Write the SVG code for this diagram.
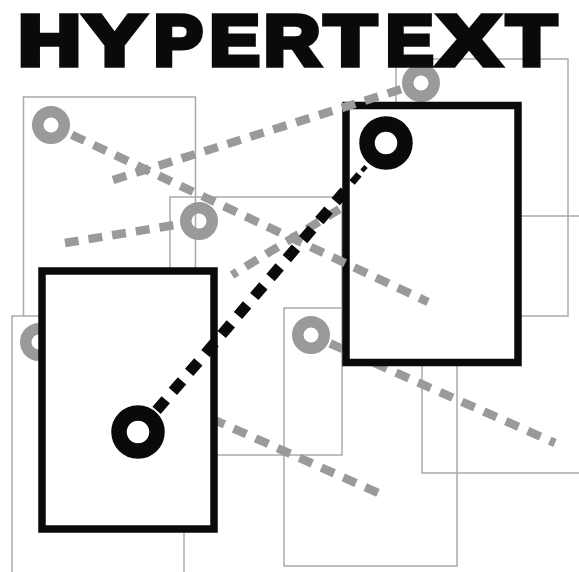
<svg xmlns="http://www.w3.org/2000/svg" width="579" height="572" viewBox="0 0 579 572">
  <style>
    .page { fill: none; stroke: #aaaaaa; stroke-width: 1.5; }
    .pagew { fill: #ffffff; stroke: #aaaaaa; stroke-width: 1.5; }
    .gring { fill: none; stroke: #9a9a9a; stroke-width: 11.5; }
    .glink { fill: none; stroke: #9a9a9a; stroke-width: 8.5; stroke-dasharray: 14 10; }
    .doc { fill: #ffffff; stroke: #0a0a0a; stroke-width: 7.5; }
    .bring { fill: none; stroke: #0a0a0a; stroke-width: 15.5; }
    .blink { fill: none; stroke: #0a0a0a; stroke-width: 11; stroke-dasharray: 14 11; }
    .title { font-family: "Liberation Sans", Arial, sans-serif; font-weight: bold; font-size: 70px; fill: #0a0a0a; stroke: #0a0a0a; stroke-width: 5.5; stroke-linejoin: miter; }
  </style>
  <rect width="579" height="572" fill="#ffffff"/>

  <!-- gray trail pages -->
  <g id="page1"><rect class="page" x="23.5" y="97" width="172" height="257"/></g>
  <g id="page2"><rect class="pagew" x="12" y="316" width="172" height="257"/></g>
  <g id="page3"><rect class="page" x="170" y="197" width="172" height="258"/></g>
  <g id="page4"><rect class="page" x="396" y="59" width="172" height="257"/></g>
  <g id="page5"><rect class="page" x="422" y="216" width="172" height="257"/></g>
  <g id="page6"><rect class="page" x="284" y="308" width="173" height="258"/></g>

  <!-- gray trail connectors (below documents) -->
  <g id="trail-links-back">
    <line class="glink" x1="58.2" y1="350.5" x2="383" y2="495"/>
    <line class="glink" x1="330.2" y1="343.5" x2="555" y2="443"/>
    <line class="glink" x1="232" y1="275" x2="400" y2="172" stroke-dashoffset="8"/>
    <line class="glink" x1="173.3" y1="225.2" x2="65" y2="243"/>
  </g>

  <!-- gray anchors -->
  <g id="anchor-page1"><circle class="gring" cx="51" cy="125" r="13.25"/></g>
  <g id="anchor-page2"><circle class="gring" cx="39" cy="342" r="13.25"/></g>
  <g id="anchor-page3"><circle class="gring" cx="199" cy="221" r="13.25"/></g>
  <g id="anchor-page4"><circle class="gring" cx="421" cy="83" r="13.25"/></g>
  <g id="anchor-page6"><circle class="gring" cx="311" cy="335" r="13.25"/></g>

  <!-- documents -->
  <g id="docA"><rect class="doc" x="42" y="271" width="172" height="258"/></g>
  <g id="docB"><rect class="doc" x="346" y="105.5" width="172" height="257"/></g>

  <!-- gray trail connectors (over documents) -->
  <g id="trail-links-front">
    <line class="glink" x1="71.8" y1="134.8" x2="428" y2="302"/>
    <line class="glink" x1="401" y1="89.3" x2="113" y2="180"/>
  </g>

  <!-- main hyperlink -->
  <g id="connectors">
    <line class="blink" x1="156.6" y1="410.4" x2="346.5" y2="189"/>
    <line x1="352" y1="182.5" x2="359" y2="174.5" stroke="#0a0a0a" stroke-width="7"/>
    <line x1="362" y1="171" x2="366" y2="166.5" stroke="#0a0a0a" stroke-width="4.5"/>
  </g>
  <g id="anchorA"><circle class="bring" cx="138" cy="432" r="19"/></g>
  <g id="anchorB"><circle class="bring" cx="386" cy="143" r="19"/></g>

  <g id="title">
    <text class="title" y="65"><tspan x="18.2" textLength="62.7" lengthAdjust="spacingAndGlyphs">H</tspan><tspan x="84" textLength="61.1" lengthAdjust="spacingAndGlyphs">Y</tspan><tspan x="154" textLength="48.6" lengthAdjust="spacingAndGlyphs">P</tspan><tspan x="209.8" textLength="49.8" lengthAdjust="spacingAndGlyphs">E</tspan><tspan x="263.9" textLength="56.1" lengthAdjust="spacingAndGlyphs">R</tspan><tspan x="324.6" textLength="51.7" lengthAdjust="spacingAndGlyphs">T</tspan><tspan x="386.1" textLength="47.3" lengthAdjust="spacingAndGlyphs">E</tspan><tspan x="438" textLength="61.9" lengthAdjust="spacingAndGlyphs">X</tspan><tspan x="506.7" textLength="49.6" lengthAdjust="spacingAndGlyphs">T</tspan></text>
  </g>
</svg>
